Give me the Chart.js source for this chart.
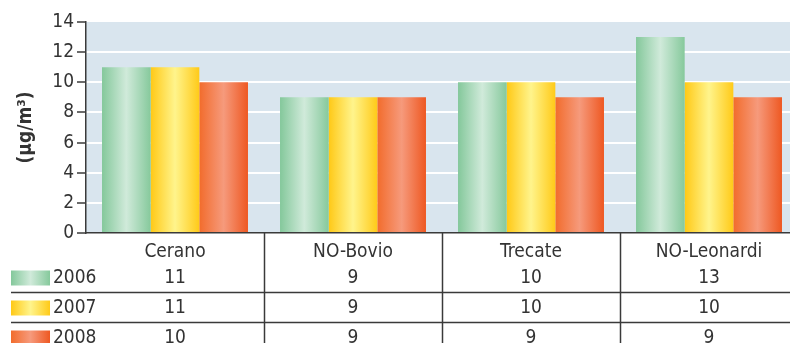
<!DOCTYPE html>
<html>
<head>
<meta charset="utf-8">
<script src="https://cdn.jsdelivr.net/npm/chart.js@4.4.0/dist/chart.umd.min.js"></script>
<style>
  html, body { margin: 0; padding: 0; background: #fff; overflow: hidden; }
  #wrap { width: 800px; height: 343px; }
</style>
</head>
<body>
<div id="wrap"><canvas id="grafico" width="800" height="343"></canvas></div>
<script>
// stazioni e valori medi annui per anno
const stazioni = ['Cerano', 'NO-Bovio', 'Trecate', 'NO-Leonardi'];
const anni = ['2006', '2007', '2008'];
const valori2006 = [11, 9, 10, 13];
const valori2007 = [11, 9, 10, 10];
const valori2008 = [10, 9, 9, 9];
const yTicks = [0, 2, 4, 6, 8, 10, 12, 14];

// sfumature orizzontali delle barre: bordo, centro, bordo
const sfumature = [
  ['#84c89b', '#d0eada', '#86c99c'],
  ['#ffc916', '#fff48c', '#ffca18'],
  ['#f26c2c', '#f69a7c', '#ee5822']
];

const CAT_PCT = 0.82;
const testo = '#333';
const fontFam = '"Liberation Sans Narrow", "DejaVu Sans Condensed", "Roboto Condensed", sans-serif';
Chart.defaults.font.family = fontFam;
Chart.defaults.color = testo;

function gradiente(ctx2d, x0, x1, cols) {
  const g = ctx2d.createLinearGradient(x0, 0, x1, 0);
  g.addColorStop(0, cols[0]);
  g.addColorStop(0.5, cols[1]);
  g.addColorStop(1, cols[2]);
  return g;
}

function riempimento(ds) {
  return (c) => {
    const chart = c.chart;
    const xs = chart.scales.x;
    if (!xs || c.type !== 'data' || !xs.width) return sfumature[ds][0];
    const cw = xs.width / stazioni.length;
    const bw = cw * CAT_PCT / anni.length;
    const cx = xs.getPixelForValue(c.dataIndex) + (ds - 1) * bw;
    if (!isFinite(cx) || !isFinite(bw)) return sfumature[ds][0];
    return gradiente(chart.ctx, cx - bw / 2, cx + bw / 2, sfumature[ds]);
  };
}

// sfondo dell'area del grafico
const sfondo = {
  id: 'sfondo',
  beforeDraw(chart) {
    const a = chart.chartArea, ctx = chart.ctx;
    ctx.save();
    ctx.fillStyle = '#d9e5ee';
    ctx.fillRect(a.left, a.top, a.right - a.left, a.bottom - a.top);
    ctx.restore();
  }
};

// tabella dati sotto l'asse x, con legenda
const tabella = {
  id: 'tabella',
  afterDraw(chart) {
    const ctx = chart.ctx, a = chart.chartArea, xs = chart.scales.x;
    const serie = [valori2006, valori2007, valori2008];
    const righeY = [278, 308, 338];
    const cw = xs.width / stazioni.length;
    ctx.save();
    ctx.strokeStyle = '#3a3a3a';
    ctx.lineWidth = 1.5;
    // separatori verticali
    for (let i = 1; i < stazioni.length; i++) {
      const x = Math.round(a.left + i * cw) + 0.5;
      ctx.beginPath();
      ctx.moveTo(x, a.bottom);
      ctx.lineTo(x, chart.height);
      ctx.stroke();
    }
    // linee orizzontali tra le righe
    [292.5, 322.5].forEach(y => {
      ctx.beginPath();
      ctx.moveTo(11, y);
      ctx.lineTo(a.right, y);
      ctx.stroke();
    });
    ctx.font = '19px ' + fontFam;
    ctx.fillStyle = testo;
    ctx.textBaseline = 'middle';
    serie.forEach((vals, r) => {
      const y = righeY[r];
      ctx.fillStyle = gradiente(ctx, 11, 50, sfumature[r]);
      ctx.fillRect(11, y - 7.5, 39, 15);
      ctx.fillStyle = testo;
      ctx.textAlign = 'left';
      ctx.fillText(anni[r], 53, y);
      ctx.textAlign = 'center';
      vals.forEach((v, i) => ctx.fillText(String(v), xs.getPixelForValue(i), y));
    });
    ctx.restore();
  }
};

new Chart(document.getElementById('grafico'), {
  type: 'bar',
  data: {
    labels: stazioni,
    datasets: [
      { label: anni[0], data: valori2006, backgroundColor: riempimento(0) },
      { label: anni[1], data: valori2007, backgroundColor: riempimento(1) },
      { label: anni[2], data: valori2008, backgroundColor: riempimento(2) }
    ]
  },
  options: {
    responsive: false,
    animation: false,
    layout: { padding: { top: 22, right: 2, left: 0, bottom: 0 } },
    datasets: { bar: { categoryPercentage: CAT_PCT, barPercentage: 1, borderWidth: 0 } },
    plugins: { legend: { display: false }, tooltip: { enabled: false } },
    scales: {
      x: {
        grid: { display: false },
        border: { display: true, color: '#3a3a3a', width: 1.5 },
        ticks: { font: { size: 19 }, color: testo, padding: 0, maxRotation: 0 },
        afterFit(s) { s.height = 110; }
      },
      y: {
        min: 0,
        max: 14,
        afterBuildTicks(s) { s.ticks = yTicks.map(v => ({ value: v })); },
        grid: {
          color: c => (c.tick && c.tick.value === 14 ? 'rgba(0,0,0,0)' : '#ffffff'),
          lineWidth: 2,
          tickColor: '#3a3a3a',
          tickLength: 9,
          tickWidth: 1.5
        },
        border: { display: true, color: '#3a3a3a', width: 1.5 },
        ticks: { font: { size: 19 }, color: testo, padding: 3 },
        title: {
          display: true,
          text: '(µg/m³)',
          font: { size: 19, weight: 'bold' },
          color: testo,
          padding: { top: 15, bottom: 0 }
        },
        afterFit(s) { s.width = 86; }
      }
    }
  },
  plugins: [sfondo, tabella]
});
</script>
</body>
</html>
